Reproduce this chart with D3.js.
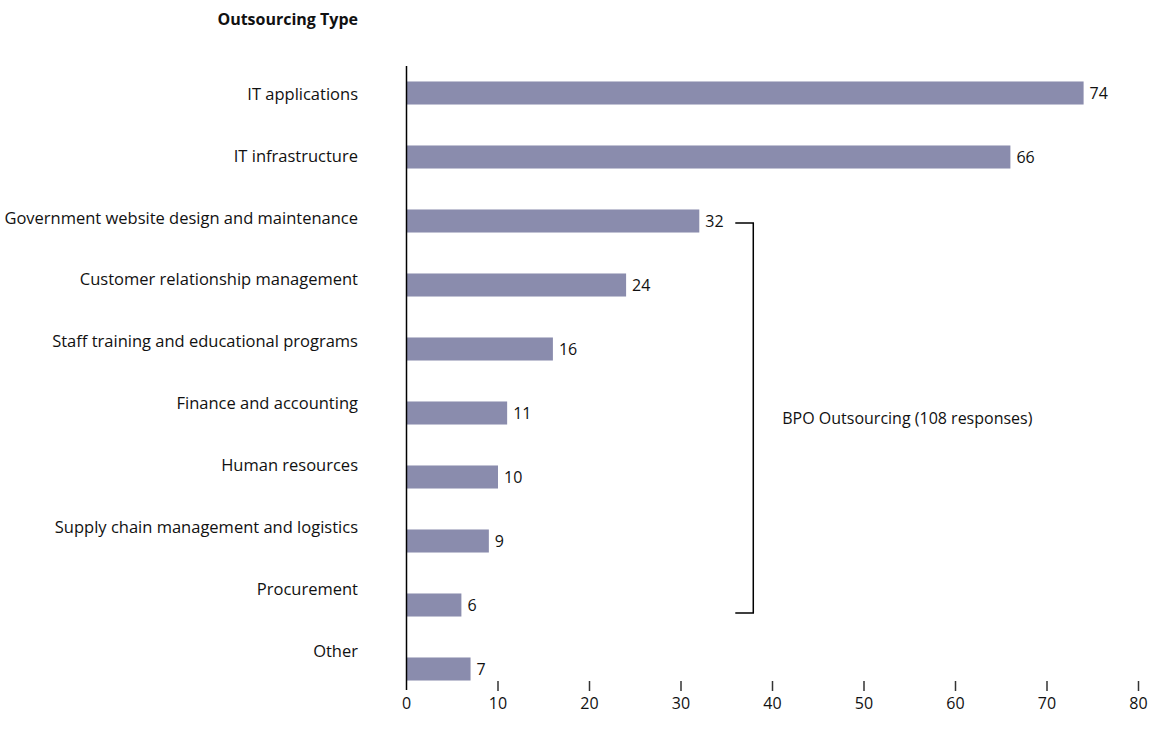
<!DOCTYPE html>
<html>
<head>
<meta charset="utf-8">
<script src="https://cdn.jsdelivr.net/npm/d3@7"></script>
<style>
  body { margin: 0; background: #fff; }
  text { font-family: "Open Sans", sans-serif; fill: #111; }
</style>
</head>
<body>
<script>
// outsourcing types and number of responses
var categories = ['IT applications', 'IT infrastructure', 'Government website design and maintenance',
  'Customer relationship management', 'Staff training and educational programs', 'Finance and accounting',
  'Human resources', 'Supply chain management and logistics', 'Procurement', 'Other'];
var responses = [74, 66, 32, 24, 16, 11, 10, 9, 6, 7];
var xTicks = [0, 10, 20, 30, 40, 50, 60, 70, 80];
var bpoGroup = ['Government website design and maintenance', 'Procurement'];
var bpoLabel = 'BPO Outsourcing (108 responses)';

var width = 1149, height = 742;

let svg = d3.select('body')
  .append('svg')
  .attr('width', width)
  .attr('height', height);

let x = d3.scaleLinear().domain([0, 80]).range([406.5, 1138.5]);

// bars
let y = d3.scaleBand().domain(categories).range([61, 701]).paddingInner(0.64).paddingOuter(0.32);
// category labels sit a bit tighter than the bars
let yLabel = d3.scalePoint().domain(categories).range([94, 651]);

svg.append('text')
  .attr('x', 358).attr('y', 25)
  .attr('text-anchor', 'end')
  .style('font-weight', 'bold')
  .style('font-size', '16px')
  .text('Outsourcing Type');

svg.selectAll('rect')
  .data(responses)
  .enter()
  .append('rect')
  .attr('x', x(0))
  .attr('y', (d, i) => y(categories[i]))
  .attr('width', d => x(d) - x(0))
  .attr('height', y.bandwidth())
  .attr('fill', '#8a8cad');

svg.selectAll('.val')
  .data(responses)
  .enter()
  .append('text')
  .attr('class', 'val')
  .attr('x', d => x(d) + 6)
  .attr('y', (d, i) => y(categories[i]) + y.bandwidth() / 2)
  .attr('dy', '0.35em')
  .style('font-size', '16px')
  .text(d => d);

svg.selectAll('.cat')
  .data(categories)
  .enter()
  .append('text')
  .attr('class', 'cat')
  .attr('x', 358)
  .attr('y', d => yLabel(d))
  .attr('dy', '0.35em')
  .attr('text-anchor', 'end')
  .style('font-size', '16.5px')
  .text(d => d);

// vertical axis line
svg.append('line')
  .attr('x1', x(0)).attr('x2', x(0))
  .attr('y1', 66).attr('y2', 690)
  .attr('stroke', '#000').attr('stroke-width', 1.5);

// x ticks without a domain line
let ticks = svg.selectAll('.tick')
  .data(xTicks)
  .enter()
  .append('g')
  .attr('transform', d => `translate(${x(d)},0)`);

ticks.filter(d => d > 0).append('line')
  .attr('y1', 681).attr('y2', 691)
  .attr('stroke', '#333').attr('stroke-width', 1.5);

ticks.append('text')
  .attr('y', 709)
  .attr('text-anchor', 'middle')
  .style('font-size', '16px')
  .text(d => d);

// bracket for BPO group
let bTop = y(bpoGroup[0]) + y.bandwidth() / 2 + 2;
let bBot = y(bpoGroup[1]) + y.bandwidth() / 2 + 8;
let bx = x(37.9);
svg.append('path')
  .attr('d', `M${bx - 18},${bTop}H${bx}V${bBot}H${bx - 18}`)
  .attr('fill', 'none')
  .attr('stroke', '#000')
  .attr('stroke-width', 1.5);

svg.append('text')
  .attr('x', bx + 29)
  .attr('y', (bTop + bBot) / 2)
  .attr('dy', '0.35em')
  .style('font-size', '16px')
  .text(bpoLabel);
</script>
</body>
</html>
